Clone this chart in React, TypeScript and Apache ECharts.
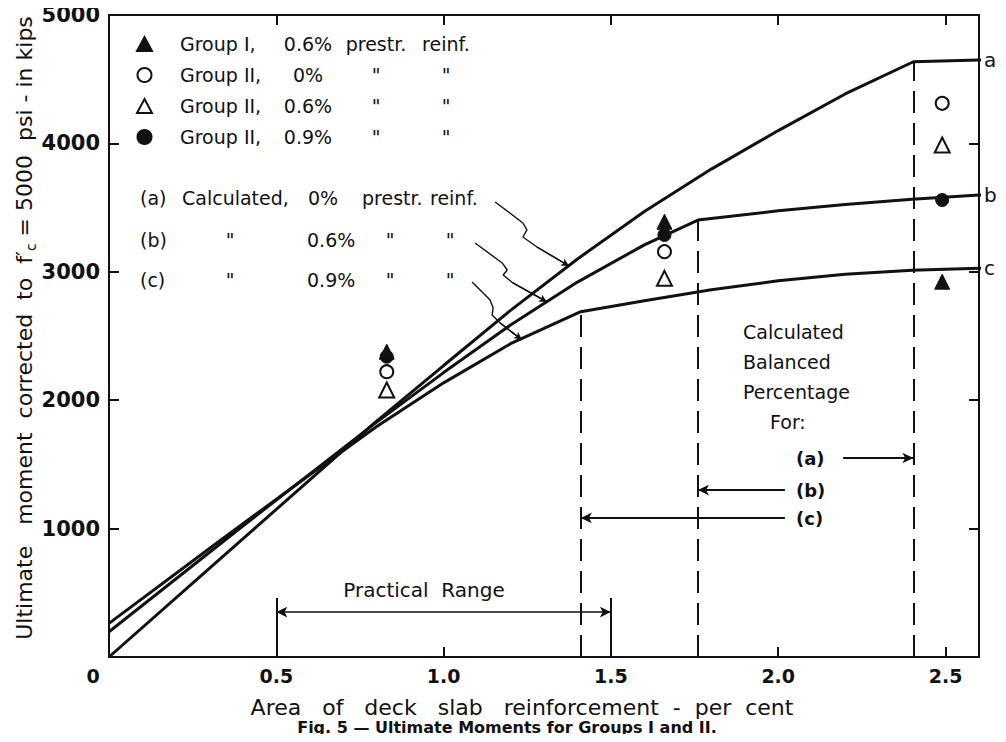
import React, { useEffect, useRef } from "react";
import * as echarts from "echarts";

const FONT = "'DejaVu Sans', sans-serif";
const INK = "#111";

// Axis ticks / labels
const xTicks = [0, 0.5, 1.0, 1.5, 2.0, 2.5];

// Calculated curves (a) 0%, (b) 0.6%, (c) 0.9% prestressing reinforcement
const curveA = [[0, 0], [0.3, 690], [0.6, 1380], [0.79, 1815], [1.0, 2270], [1.2, 2700], [1.4, 3100], [1.6, 3470], [1.8, 3800], [2.0, 4100], [2.2, 4385], [2.404, 4636], [2.6, 4650], [2.627, 4652]];
const curveB = [[0, 197], [0.4, 1020], [0.79, 1810], [1.0, 2215], [1.2, 2585], [1.4, 2920], [1.6, 3210], [1.76, 3403], [2.0, 3475], [2.2, 3525], [2.4, 3565], [2.6, 3598], [2.627, 3600]];
const curveC = [[0, 262], [0.3, 845], [0.6, 1420], [0.8, 1795], [1.0, 2135], [1.2, 2440], [1.41, 2689], [1.6, 2775], [1.8, 2860], [2.0, 2930], [2.2, 2980], [2.4, 3012], [2.6, 3027], [2.627, 3028]];

// Test results
const groupI06 = [[0.83, 2378], [1.66, 3390], [2.49, 2923]];
const groupII0 = [[0.83, 2222], [1.66, 3157], [2.49, 4312]];
const groupII06 = [[0.83, 2079], [1.66, 2949], [2.49, 3988]];
const groupII09 = [[0.83, 2339], [1.66, 3287], [2.49, 3559]];

// Balanced percentages (x) and the curve value at the break
const balancedX = [2.404, 1.76, 1.41];
const balancedTop = [4636, 3403, 2689];

// Annotation arrows (data coordinates)
const arrowA = [[2.194, 1550], [2.404, 1550]];
const arrowB = [[2.02, 1300], [1.76, 1300]];
const arrowC = [[2.02, 1083], [1.41, 1083]];
const practicalRange = [[0.5, 350], [1.5, 350]];
const practicalBarTop = 460;

// Leader lines from the curve labels to the curves
const leaderA = [[1.154, 3544], [1.237, 3380], [1.249, 3326], [1.237, 3271], [1.279, 3193], [1.375, 3045]];
const leaderB = [[1.094, 3224], [1.175, 3069], [1.19, 3014], [1.178, 2975], [1.207, 2913], [1.309, 2765]];
const leaderC = [[1.085, 2921], [1.139, 2780], [1.148, 2718], [1.145, 2664], [1.169, 2601], [1.234, 2470]];

const legendNames = ["Group I, 0.6%", "Group II, 0%", "Group II, 0.6%", "Group II, 0.9%"];
const legendRows: Record<string, string> = {
  "Group I, 0.6%": "{sp| }{g|Group I,}{p|0.6%}{w1|prestr.}{w2|reinf.}",
  "Group II, 0%": '{sp| }{g|Group II,}{p|0%}{w1|"}{w2|"}',
  "Group II, 0.6%": '{sp| }{g|Group II,}{p|0.6%}{w1|"}{w2|"}',
  "Group II, 0.9%": '{sp| }{g|Group II,}{p|0.9%}{w1|"}{w2|"}',
};

const TXT = 19;

function txt(text: string, x: number, y: number, opts: any = {}) {
  return {
    type: "text",
    x,
    y,
    silent: true,
    style: {
      text,
      fill: INK,
      fontSize: TXT,
      fontFamily: FONT,
      align: "left",
      verticalAlign: "middle",
      ...opts,
    },
  };
}

function arrowLine(pts: number[][], both = false, width = 2) {
  return [
    { coord: pts[0], symbol: both ? "arrow" : "none", symbolSize: [8, 11], lineStyle: { width, type: "solid", color: INK } },
    { coord: pts[1], symbol: "arrow", symbolSize: [8, 11] },
  ];
}

function leaderSeries(pts: number[][]) {
  const n = pts.length;
  return {
    type: "line",
    data: pts,
    symbol: "none",
    silent: true,
    clip: false,
    lineStyle: { color: INK, width: 1.4 },
    z: 2,
    markLine: {
      silent: true,
      label: { show: false },
      data: [
        [
          { coord: pts[n - 2], symbol: "none", lineStyle: { width: 1.4, color: INK, type: "solid" } },
          { coord: pts[n - 1], symbol: "arrow", symbolSize: [6, 8] },
        ],
      ],
    },
  };
}

export default function App() {
  const ref = useRef<HTMLDivElement>(null);
  useEffect(() => {
    if (!ref.current) return;
    const chart = echarts.init(ref.current, null, { renderer: "svg" });
    const axisLine = { show: true, onZero: false, lineStyle: { color: INK, width: 2 } };
    const tick = { show: true, inside: true, length: 10, lineStyle: { color: INK, width: 2 } };
    const curveLabel = (t: string) => ({
      show: true,
      formatter: t,
      color: INK,
      fontSize: 20,
      fontFamily: FONT,
      distance: 3,
    });
    const curve = (name: string, data: number[][], extra: any = {}) => ({
      name,
      type: "line",
      data,
      symbol: "none",
      showSymbol: false,
      silent: true,
      clip: false,
      lineStyle: { color: INK, width: 3 },
      endLabel: curveLabel(name),
      z: 3,
      ...extra,
    });

    const markData: any[] = [];
    balancedX.forEach((x, i) => {
      markData.push([
        { coord: [x, 0], symbol: "none", lineStyle: { type: [22, 10], width: 2, color: INK } },
        { coord: [x, balancedTop[i]], symbol: "none" },
      ]);
    });
    markData.push(arrowLine(arrowA));
    markData.push(arrowLine(arrowB));
    markData.push(arrowLine(arrowC));
    markData.push(arrowLine(practicalRange, true, 1.6));
    markData.push([
      { coord: [practicalRange[0][0], 0], symbol: "none", lineStyle: { width: 2, type: "solid", color: INK } },
      { coord: [practicalRange[0][0], practicalBarTop], symbol: "none" },
    ]);
    markData.push([
      { coord: [practicalRange[1][0], 0], symbol: "none", lineStyle: { width: 2, type: "solid", color: INK } },
      { coord: [practicalRange[1][0], practicalBarTop], symbol: "none" },
    ]);

    const scatter = (name: string, data: number[][], symbol: string, filled: boolean) => ({
      name,
      type: "scatter",
      data,
      symbol,
      symbolSize: symbol === "triangle" ? 15 : 13,
      silent: true,
      z: 5,
      itemStyle: filled
        ? { color: INK, borderColor: INK, borderWidth: 1, opacity: 1 }
        : { color: "#fff", borderColor: INK, borderWidth: 2, opacity: 1 },
    });

    const richBase = { fontSize: TXT, fontFamily: FONT, color: INK };

    const option: any = {
      animation: false,
      backgroundColor: "#fff",
      grid: { left: 109, right: 27, top: 15, bottom: 85 },
      legend: {
        data: legendNames,
        orient: "vertical",
        left: 131,
        top: 28,
        itemWidth: 15,
        itemHeight: 14,
        itemGap: 9,
        selectedMode: false,
        formatter: (n: string) => legendRows[n],
        textStyle: {
          ...richBase,
          lineHeight: 22,
          rich: {
            sp: { width: 23 },
            g: { width: 100, ...richBase },
            p: { width: 56, align: "center", ...richBase },
            w1: { width: 80, align: "center", ...richBase },
            w2: { width: 60, align: "center", ...richBase },
          },
        },
      },
      xAxis: [
        {
          type: "value",
          min: 0,
          max: 2.6,
          interval: 0.5,
          position: "bottom",
          axisLine,
          axisTick: { ...tick, customValues: xTicks },
          splitLine: { show: false },
          axisLabel: {
            customValues: xTicks,
            margin: 9,
            color: INK,
            fontSize: 19,
            fontWeight: "bold",
            fontFamily: FONT,
            formatter: (v: number) => (v === 0 ? "{z|0}" : v.toFixed(1)),
            rich: { z: { padding: [0, 32, 0, 0], fontSize: 19, fontWeight: "bold", fontFamily: FONT, color: INK } },
          },
        },
        {
          type: "value",
          min: 0,
          max: 2.6,
          interval: 0.5,
          position: "top",
          axisLine,
          axisTick: { ...tick, customValues: xTicks },
          axisLabel: { show: false },
          splitLine: { show: false },
        },
      ],
      yAxis: [
        {
          type: "value",
          min: 0,
          max: 5000,
          interval: 1000,
          position: "left",
          axisLine,
          axisTick: tick,
          splitLine: { show: false },
          axisLabel: {
            margin: 9,
            color: INK,
            fontSize: 21,
            fontWeight: "bold",
            fontFamily: FONT,
            formatter: (v: number) => (v === 0 ? "" : String(v)),
          },
        },
        {
          type: "value",
          min: 0,
          max: 5000,
          interval: 1000,
          position: "right",
          axisLine,
          axisTick: tick,
          axisLabel: { show: false },
          splitLine: { show: false },
        },
      ],
      series: [
        curve("a", curveA, {
          markLine: { silent: true, label: { show: false }, symbol: ["none", "none"], data: markData },
        }),
        curve("b", curveB),
        curve("c", curveC),
        leaderSeries(leaderA),
        leaderSeries(leaderB),
        leaderSeries(leaderC),
        scatter(legendNames[3], groupII09, "circle", true),
        scatter(legendNames[0], groupI06, "triangle", true),
        scatter(legendNames[1], groupII0, "circle", false),
        scatter(legendNames[2], groupII06, "triangle", false),
      ],
      graphic: [
        // y axis title
        {
          type: "text",
          x: 24,
          y: 328,
          rotation: Math.PI / 2,
          silent: true,
          style: {
            text: "{n|Ultimate   moment  corrected  to  f\u2032}{s|c}{n| = 5000  psi - in kips}",
            align: "center",
            verticalAlign: "middle",
            fill: INK,
            fontSize: 22,
            fontFamily: FONT,
            rich: {
              n: { fontSize: 22, fontFamily: FONT, fill: INK, lineHeight: 27 },
              s: { fontSize: 14, fontFamily: FONT, fill: INK, lineHeight: 27, verticalAlign: "bottom" },
            },
          },
        },
        // curve label block
        txt("(a)", 140, 198),
        txt("Calculated,", 182, 198),
        txt("0%", 308, 198),
        txt("prestr.", 362, 198),
        txt("reinf.", 430, 198),
        txt("(b)", 140, 240),
        txt('"', 230, 240, { align: "center" }),
        txt("0.6%", 307, 240),
        txt('"', 390, 240, { align: "center" }),
        txt('"', 450, 240, { align: "center" }),
        txt("(c)", 140, 280),
        txt('"', 230, 280, { align: "center" }),
        txt("0.9%", 307, 280),
        txt('"', 390, 280, { align: "center" }),
        txt('"', 450, 280, { align: "center" }),
        // balanced percentage block
        txt("Calculated", 743, 332),
        txt("Balanced", 743, 362),
        txt("Percentage", 743, 392),
        txt("For:", 770, 422),
        txt("(a)", 796, 458, { fontWeight: "bold", fontSize: 18 }),
        txt("(b)", 796, 490, { fontWeight: "bold", fontSize: 18 }),
        txt("(c)", 796, 518, { fontWeight: "bold", fontSize: 18 }),
        txt("Practical  Range", 424, 590, { align: "center", fontSize: 20 }),
        // x axis title and caption
        txt("Area   of   deck   slab   reinforcement  -  per  cent", 522, 707, { align: "center", fontSize: 22 }),
        txt("Fig. 5 \u2014 Ultimate Moments for Groups I and II.", 507, 727, { align: "center", fontSize: 16, fontWeight: "bold" }),
      ],
    };
    chart.setOption(option);
    return () => chart.dispose();
  }, []);
  return <div ref={ref} style={{ width: 1006, height: 742, margin: -8 }} />;
}
